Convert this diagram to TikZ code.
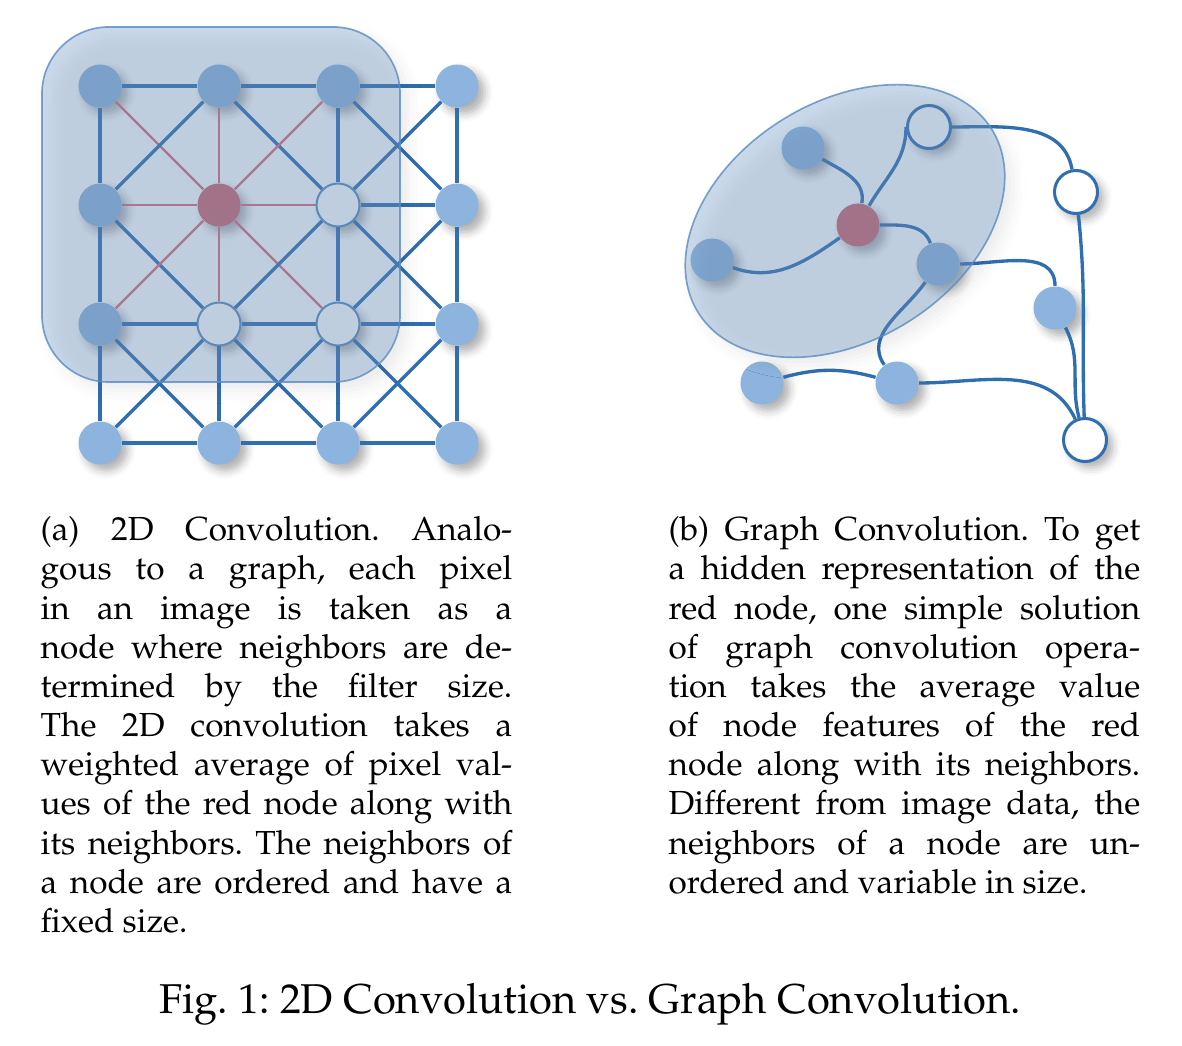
\documentclass[tikz,border=0pt]{standalone}
\usepackage[T1]{fontenc}
\usepackage{mathpazo}
\usetikzlibrary{shadows.blur}

\definecolor{nodeblue}{RGB}{140,180,222}
\definecolor{lineblue}{RGB}{48,110,178}
\definecolor{nodered}{RGB}{205,100,110}
\definecolor{linered}{RGB}{222,105,120}
\definecolor{patchblue}{RGB}{115,155,200}
\definecolor{patchline}{RGB}{90,140,195}

\newlength{\subw}\setlength{\subw}{141.5pt}
\newcommand{\jline}[1]{\makebox[\subw][s]{#1}}

% grid edge, red when it touches the centre pixel g-1-1
\newcommand{\gridedge}[4]{%
  \pgfmathtruncatemacro\isred{((#1==1)&&(#2==1))||((#3==1)&&(#4==1))}%
  \ifnum\isred=1 \draw[redlink] (g-#1-#2) -- (g-#3-#4);%
  \else \draw[link] (g-#1-#2) -- (g-#3-#4);\fi}

\begin{document}
\frenchspacing
\begin{tikzpicture}[x=0.3pt,y=0.3pt,
    pix/.style={circle,minimum size=12.9pt,inner sep=0pt,fill=nodeblue,
      blur shadow={shadow xshift=1.8pt,shadow yshift=-1.8pt,shadow opacity=32,shadow blur radius=2.5pt}},
    pixred/.style={pix,fill=nodered},
    pixopen/.style={pix,fill=white,draw=lineblue!80,line width=0.6pt},
    graphopen/.style={pix,fill=white,draw=lineblue,line width=0.9pt},
    link/.style={lineblue,line width=1pt},
    redlink/.style={linered,line width=0.7pt},
    patch/.style={fill=patchblue,fill opacity=0.36,draw=patchline,draw opacity=0.8,line width=0.5pt,
      blur shadow={shadow xshift=2.5pt,shadow yshift=-2.5pt,shadow opacity=8,shadow blur radius=4pt}},
    sub/.style={inner sep=0pt,align=left,font=\fontsize{10}{11.75}\selectfont}]
  \useasboundingbox (0,0) rectangle (1182,-1046);

  % (a) pixel grid
  \foreach \i/\j in {0/0,1/0,2/0,3/0,0/1,3/1,0/2,3/2,0/3,1/3,2/3,3/3}
    \node[pix] (g-\i-\j) at ({100+119*\i},{-86-119*\j}) {};
  \node[pixred] (g-1-1) at (219,-205) {};
  \node[pixopen] (g-2-1) at (338,-205) {};
  \node[pixopen] (g-1-2) at (219,-324) {};
  \node[pixopen] (g-2-2) at (338,-324) {};

  \foreach \i in {0,...,3}
    \foreach \j in {0,1,2} {
      \pgfmathtruncatemacro\jnext{\j+1}
      \gridedge{\i}{\j}{\i}{\jnext}
      \gridedge{\j}{\i}{\jnext}{\i}
    }
  \foreach \i in {0,1,2}
    \foreach \j in {0,1,2} {
      \pgfmathtruncatemacro\inext{\i+1}
      \pgfmathtruncatemacro\jnext{\j+1}
      \gridedge{\i}{\j}{\inext}{\jnext}
      \gridedge{\inext}{\j}{\i}{\jnext}
    }

  % 3x3 filter
  \draw[patch,rounded corners=20pt] (42,-27) rectangle (400,-382);

  % (b) graph
  \node[pix] (n1) at (803,-148) {};
  \node[pix] (n2) at (712,-260) {};
  \node[pixred] (ctr) at (858,-225) {};
  \node[graphopen] (h1) at (929,-127) {};
  \node[graphopen] (h2) at (1076,-192) {};
  \node[pix] (mid) at (938,-264) {};
  \node[pix] (rt) at (1055,-308) {};
  \node[pix] (bl) at (762,-383) {};
  \node[pix] (bm) at (897,-383) {};
  \node[graphopen] (h3) at (1085,-440) {};

  \draw[link] (n1) to[out=-30,in=80] (ctr);
  \draw[link] (ctr) to[out=60,in=-90] (h1.west);
  \draw[link] (ctr) to[out=215,in=-20] (n2);
  \draw[link] (ctr) to[out=0,in=110] (mid);
  \draw[link] (h1) to[out=0,in=100] (h2);
  \draw[link] (h2) to[out=-84,in=92] (h3);
  \draw[link] (mid) to[out=0,in=90] (rt);
  \draw[link] (rt) to[out=-62,in=105] (h3);
  \draw[link] (mid) to[out=235,in=125] (bm);
  \draw[link] (bl) to[out=15,in=165] (bm);
  \draw[link] (bm) to[out=0,in=115] (h3);

  % neighbourhood
  \draw[patch,rotate around={32:(845,-221)}] (845,-221) ellipse [x radius=173,y radius=119];

  % sub captions
  \node[sub,anchor=north west] (capa) at (40,-516) {%
    \jline{(a) 2D Convolution. Analo-}\\
    \jline{gous to a graph, each pixel}\\
    \jline{in an image is taken as a}\\
    \jline{node where neighbors are de-}\\
    \jline{termined by the filter size.}\\
    \jline{The 2D convolution takes a}\\
    \jline{weighted average of pixel val-}\\
    \jline{ues of the red node along with}\\
    \jline{its neighbors. The neighbors of}\\
    \jline{a node are ordered and have a}\\
    fixed size.};
  \node[sub,anchor=north west] (capb) at (668,-516) {%
    \jline{(b) Graph Convolution. To get}\\
    \jline{a hidden representation of the}\\
    \jline{red node, one simple solution}\\
    \jline{of graph convolution opera-}\\
    \jline{tion takes the average value}\\
    \jline{of node features of the red}\\
    \jline{node along with its neighbors.}\\
    \jline{Different from image data, the}\\
    \jline{neighbors of a node are un-}\\
    ordered and variable in size.};

  % figure caption
  \node[anchor=base,font=\fontsize{12.5}{15}\selectfont] (cap) at (590,-1013)
    {Fig. 1: 2D Convolution vs. Graph Convolution.};
\end{tikzpicture}
\end{document}
